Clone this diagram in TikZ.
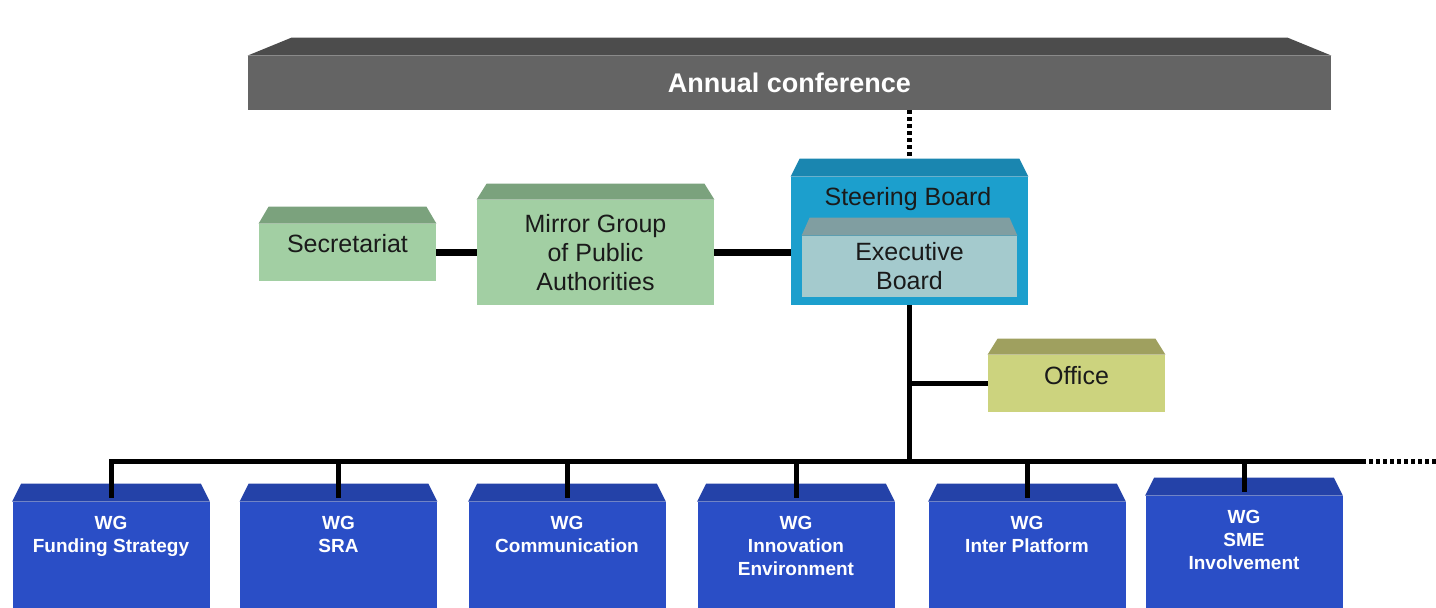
\documentclass[tikz,border=0pt]{standalone}
\usepackage{fontspec}
\setmainfont{Liberation Sans}
\usetikzlibrary{positioning}

\definecolor{confront}{HTML}{646464}
\definecolor{conflid}{HTML}{4C4C4C}
\definecolor{steerfront}{HTML}{1C9FCD}
\definecolor{steerlid}{HTML}{1A86B0}
\definecolor{execfront}{HTML}{A4CACD}
\definecolor{execlid}{HTML}{809EA1}
\definecolor{greenfront}{HTML}{A2CFA3}
\definecolor{greenlid}{HTML}{7BA27D}
\definecolor{officefront}{HTML}{CCD37E}
\definecolor{officelid}{HTML}{9FA05F}
\definecolor{wgfront}{HTML}{2A4EC6}
\definecolor{wglid}{HTML}{2442A8}
\definecolor{ink}{HTML}{1A1A1A}

\tikzset{
  front/.style={rectangle, inner sep=0pt, align=center, text=ink,
    font=\fontsize{12.5}{14.5}\selectfont},
  conf/.style={front, fill=confront, minimum width=541.5pt, minimum height=27pt,
    text=white, font=\bfseries\fontsize{13.5}{15}\selectfont},
  steerbox/.style={front, fill=steerfront, minimum width=118.5pt, minimum height=64pt},
  execbox/.style={front, fill=execfront, minimum width=107.5pt, minimum height=30.5pt},
  greenbox/.style={front, fill=greenfront},
  officebox/.style={front, fill=officefront, minimum width=88.5pt, minimum height=28.5pt},
  wgbox/.style={front, fill=wgfront, minimum width=98.5pt, minimum height=53pt},
  wgtext/.style={anchor=north, align=center, inner sep=0pt, text=white,
    font=\bfseries\fontsize{9.5}{11.5}\selectfont},
  link/.style={line width=3.5pt},
  tree/.style={line width=2.5pt},
  dotlink/.style={line width=2.5pt, dash pattern=on 2pt off 1.5pt}
}

% lid on top of a box: node, colour, depth, inset
\newcommand{\lid}[4]{%
  \fill[#2] (#1.north west) -- ([shift={(#4,#3)}]#1.north west)
    -- ([shift={(-#4,#3)}]#1.north east) -- (#1.north east) -- cycle;}

\begin{document}
\begin{tikzpicture}[x=0.5pt,y=0.5pt]
\useasboundingbox (0,0) rectangle (1436,608);

% top
\node[conf] (annual) at (789.5,525) {Annual conference};
\lid{annual}{conflid}{9pt}{22pt}

% boards
\node[steerbox] (steer) at (909.5,367) {};
\lid{steer}{steerlid}{9pt}{4.5pt}
\node[front] (steertxt) at (908,409) {Steering Board};
\node[execbox] (exec) at (909.5,341.5) {Executive\\Board};
\lid{exec}{execlid}{9pt}{4pt}

\node[greenbox, minimum width=118.5pt, minimum height=52.5pt] (mirror) at (595.5,355.5)
  {Mirror Group\\of Public\\Authorities};
\lid{mirror}{greenlid}{8pt}{5pt}
\node[greenbox, minimum width=88.5pt, minimum height=28.5pt, text depth=9pt] (secr) at (347.5,355.5)
  {Secretariat};
\lid{secr}{greenlid}{8.5pt}{5pt}

\node[officebox, text depth=8pt] (office) at (1076.5,224.5) {Office};
\lid{office}{officelid}{8pt}{5pt}

% working groups
\node[wgbox] (wg1) at (111,53) {};
\node[wgbox] (wg2) at (338.5,53) {};
\node[wgbox] (wg3) at (567,53) {};
\node[wgbox] (wg4) at (796,53) {};
\node[wgbox] (wg5) at (1027,53) {};
\node[wgbox, minimum height=56pt] (wg6) at (1244,56) {};
\foreach \w in {wg1,wg2,wg3,wg4,wg5,wg6}
  \lid{\w}{wglid}{9pt}{4.5pt};

\node[wgtext] (wg1t) at ([yshift=-7pt]wg1.north) {WG\\Funding Strategy};
\node[wgtext] (wg2t) at ([yshift=-7pt]wg2.north) {WG\\SRA};
\node[wgtext] (wg3t) at ([yshift=-7pt]wg3.north) {WG\\Communication};
\node[wgtext] (wg4t) at ([yshift=-7pt]wg4.north) {WG\\Innovation\\Environment};
\node[wgtext] (wg5t) at ([yshift=-7pt]wg5.north) {WG\\Inter Platform};
\node[wgtext] (wg6t) at ([yshift=-7pt]wg6.north) {WG\\SME\\Involvement};

% connectors
\coordinate (busL) at (111,146);
\coordinate (busR) at (1362,146);
\coordinate (busE) at (1436,146);

\draw[dotlink] (annual.south -| steer.north) -- ([yshift=9pt]steer.north);
\draw[link] (secr) -- (mirror);
\draw[link] (mirror.east) -- (mirror.east -| steer.west);
\draw[tree] (steer.south) -- (steer.south |- busL);
\draw[tree] (office.west) -- (office.west -| steer.south);
\draw[tree, line cap=rect] (busL) -- (busR);
\draw[dotlink] (busR) -- (busE);
\foreach \w in {wg1,wg2,wg3,wg4,wg5,wg6}
  \draw[tree] (\w.north |- busL) -- ([yshift=2pt]\w.north);
\end{tikzpicture}
\end{document}
